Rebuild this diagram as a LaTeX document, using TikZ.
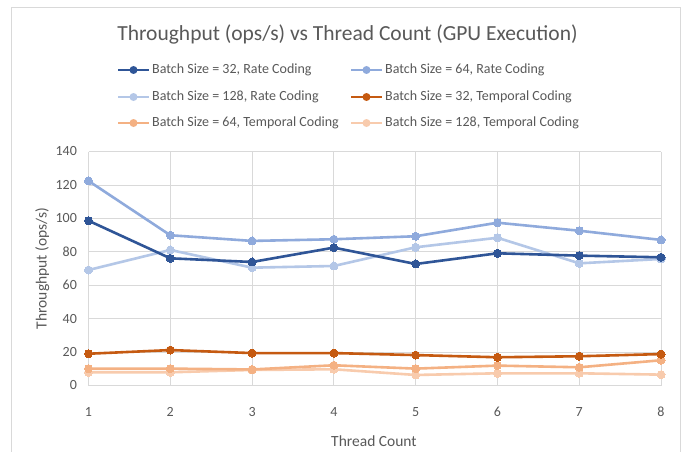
\documentclass[tikz,border=0pt]{standalone}
\usepackage{fontspec}
\setmainfont{Carlito}
\definecolor{txt}{HTML}{595959}
\definecolor{grid}{HTML}{D9D9D9}
\definecolor{sA}{HTML}{2F5597}
\definecolor{sB}{HTML}{8FAADC}
\definecolor{sC}{HTML}{B4C7E7}
\definecolor{sD}{HTML}{C55A11}
\definecolor{sE}{HTML}{F4B183}
\definecolor{sF}{HTML}{F8CBAD}
\tikzset{
  series/.style={line width=2.6pt, line join=round, mark=*, mark size=4pt, mark options={line width=0pt, fill=#1, draw=#1}, draw=#1},
  legline/.style={line width=2.6pt, draw=#1},
  legtext/.style={anchor=west, text=txt, font=\fontsize{14}{16}\selectfont, inner sep=0pt},
  ticklab/.style={text=txt, font=\fontsize{14}{16}\selectfont, inner sep=0pt},
  gridline/.style={draw=grid, line width=0.8pt}
}
\begin{document}
\begin{tikzpicture}[x=1pt,y=1pt]
\useasboundingbox (0,0) rectangle (683,451);
\fill[white] (0,0) rectangle (683,451);
% chart border
\draw[draw=grid, line width=0.9pt] (11.5,-5) -- (11.5,444) -- (680,444) -- (680,-5);
% title
\node[text=txt, font=\fontsize{21.5}{24}\selectfont] (title) at (347.5,417) {Throughput (ops/s) vs Thread Count (GPU Execution)};
% legend
\foreach \c/\xx/\yy/\lab [count=\k] in {sA/118/381/{Batch Size = 32, Rate Coding},
  sB/351/381/{Batch Size = 64, Rate Coding},
  sC/118/354/{Batch Size = 128, Rate Coding},
  sD/351/354/{Batch Size = 32, Temporal Coding},
  sE/118/328/{Batch Size = 64, Temporal Coding},
  sF/351/328/{Batch Size = 128, Temporal Coding}}{
  \draw[legline=\c] (\xx,\yy) -- (\xx+31,\yy);
  \fill[\c] (\xx+15.5,\yy) circle (4pt);
  \node[legtext] (leg\k) at (\xx+34,\yy) {\lab};
}
% plot
\begin{scope}[shift={(6.71pt,65.5pt)}, x=81.79pt, y=1.6714pt]
  \foreach \v in {20,40,...,140} \draw[gridline] (1,\v) -- (8,\v);
  \foreach \i in {1,...,8} \draw[gridline] (\i,0) -- (\i,140);
  \draw[draw=grid, line width=0.9pt] (1,0) -- (8,0);
  \foreach \v in {0,20,...,140} \node[ticklab, anchor=east] (yt\v) at (0.86,\v) {\v};
  \foreach \i in {1,...,8} \node[ticklab] (xt\i) at (\i,-15.8) {\i};
  \node[text=txt, font=\fontsize{15.5}{18}\selectfont, rotate=90] (ylab) at (0.435,70) {Throughput (ops/s)};
  \node[text=txt, font=\fontsize{15.5}{18}\selectfont] (xlab) at (4.49,-33.3) {Thread Count};
  % series
  \draw[series=sF] plot coordinates {(1,7.9) (2,7.9) (3,9.3) (4,9.7) (5,6.3) (6,7.3) (7,7.3) (8,6.5)};
  \draw[series=sE] plot coordinates {(1,10.1) (2,10.1) (3,9.6) (4,12.1) (5,10.1) (6,11.9) (7,10.9) (8,15.1)};
  \draw[series=sD] plot coordinates {(1,19.0) (2,21.2) (3,19.4) (4,19.4) (5,18.2) (6,16.9) (7,17.5) (8,18.8)};
  \draw[series=sC] plot coordinates {(1,69.1) (2,81.1) (3,70.5) (4,71.5) (5,82.7) (6,88.4) (7,73.1) (8,75.7)};
  \draw[series=sB] plot coordinates {(1,122.4) (2,89.9) (3,86.5) (4,87.5) (5,89.3) (6,97.4) (7,92.6) (8,87.1)};
  \draw[series=sA] plot coordinates {(1,98.6) (2,76.1) (3,73.9) (4,82.5) (5,72.7) (6,79.1) (7,77.7) (8,76.7)};
\end{scope}
\end{tikzpicture}
\end{document}
